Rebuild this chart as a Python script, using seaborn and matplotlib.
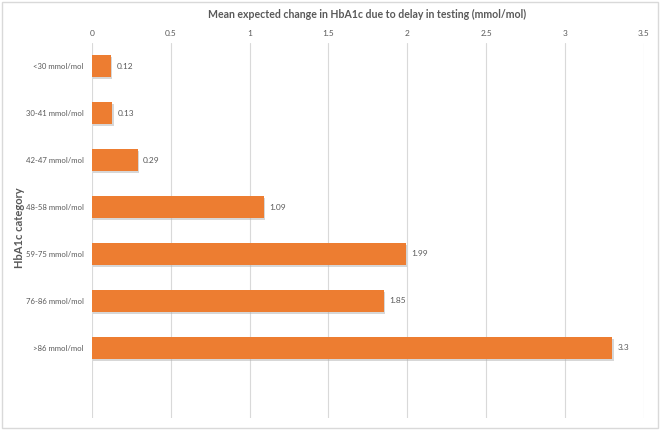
import pandas as pd
import seaborn as sns
import matplotlib.pyplot as plt
from matplotlib.patches import Rectangle

# Datos
categorias = ['<30 mmol/mol', '30-41 mmol/mol', '42-47 mmol/mol', '48-58 mmol/mol',
              '59-75 mmol/mol', '76-86 mmol/mol', '>86 mmol/mol']
cambio_medio = [0.12, 0.13, 0.29, 1.09, 1.99, 1.85, 3.3]
ticks_x = [0, 0.5, 1, 1.5, 2, 2.5, 3, 3.5]

df = pd.DataFrame({'Categoria': categorias, 'Cambio': cambio_medio})

sns.set_style('white')
plt.rcParams['font.family'] = ['Lato', 'DejaVu Sans']
gris = '#595959'

fig = plt.figure(figsize=(6.61, 4.3), dpi=100)
ax = fig.add_axes([0.139, 0.028, 0.835, 0.872])

sns.barplot(data=df, x='Cambio', y='Categoria', orient='h', color='#ED7D31',
            width=0.47, saturation=1, ax=ax, zorder=3)

# Sombra ligera de las barras
for p in ax.patches:
    p.set_edgecolor('none')
    sombra = Rectangle((p.get_x() + 0.008, p.get_y() + 0.04), p.get_width(), p.get_height(),
                       facecolor='#b0b0b0', alpha=0.5, zorder=2, edgecolor='none')
    ax.add_patch(sombra)

# Etiquetas de valores
for i, v in enumerate(cambio_medio):
    ax.text(v + 0.035, i, f'{v:g}', va='center', ha='left', fontsize=6, color=gris)

ax.set_xlim(0, 3.5)
ax.set_ylim(7.5, -0.5)
ax.set_xticks(ticks_x)
ax.set_xticklabels([f'{t:g}' for t in ticks_x])
ax.xaxis.tick_top()
ax.tick_params(axis='x', length=0, labelsize=6, labelcolor=gris, pad=4)
ax.tick_params(axis='y', length=0, labelsize=5.6, labelcolor=gris, pad=6)
ax.grid(axis='x', color='#d9d9d9', linewidth=0.8, zorder=0)
for s in ax.spines.values():
    s.set_visible(False)

ax.set_xlabel('')
ax.set_ylabel('')
fig.text(0.029, 0.47, 'HbA1c category', rotation=90, ha='center', va='center',
         fontsize=8, fontweight='bold', color=gris)
fig.text(0.555, 0.967, 'Mean expected change in HbA1c due to delay in testing (mmol/mol)',
         ha='center', va='center', fontsize=7.6, fontweight='bold', color=gris)

# Marco del grafico
fig.patches.append(Rectangle((0.003, 0.005), 0.993, 0.99, transform=fig.transFigure,
                             fill=False, edgecolor='#d9d9d9', linewidth=1))

fig.savefig('out.png', dpi=100)
